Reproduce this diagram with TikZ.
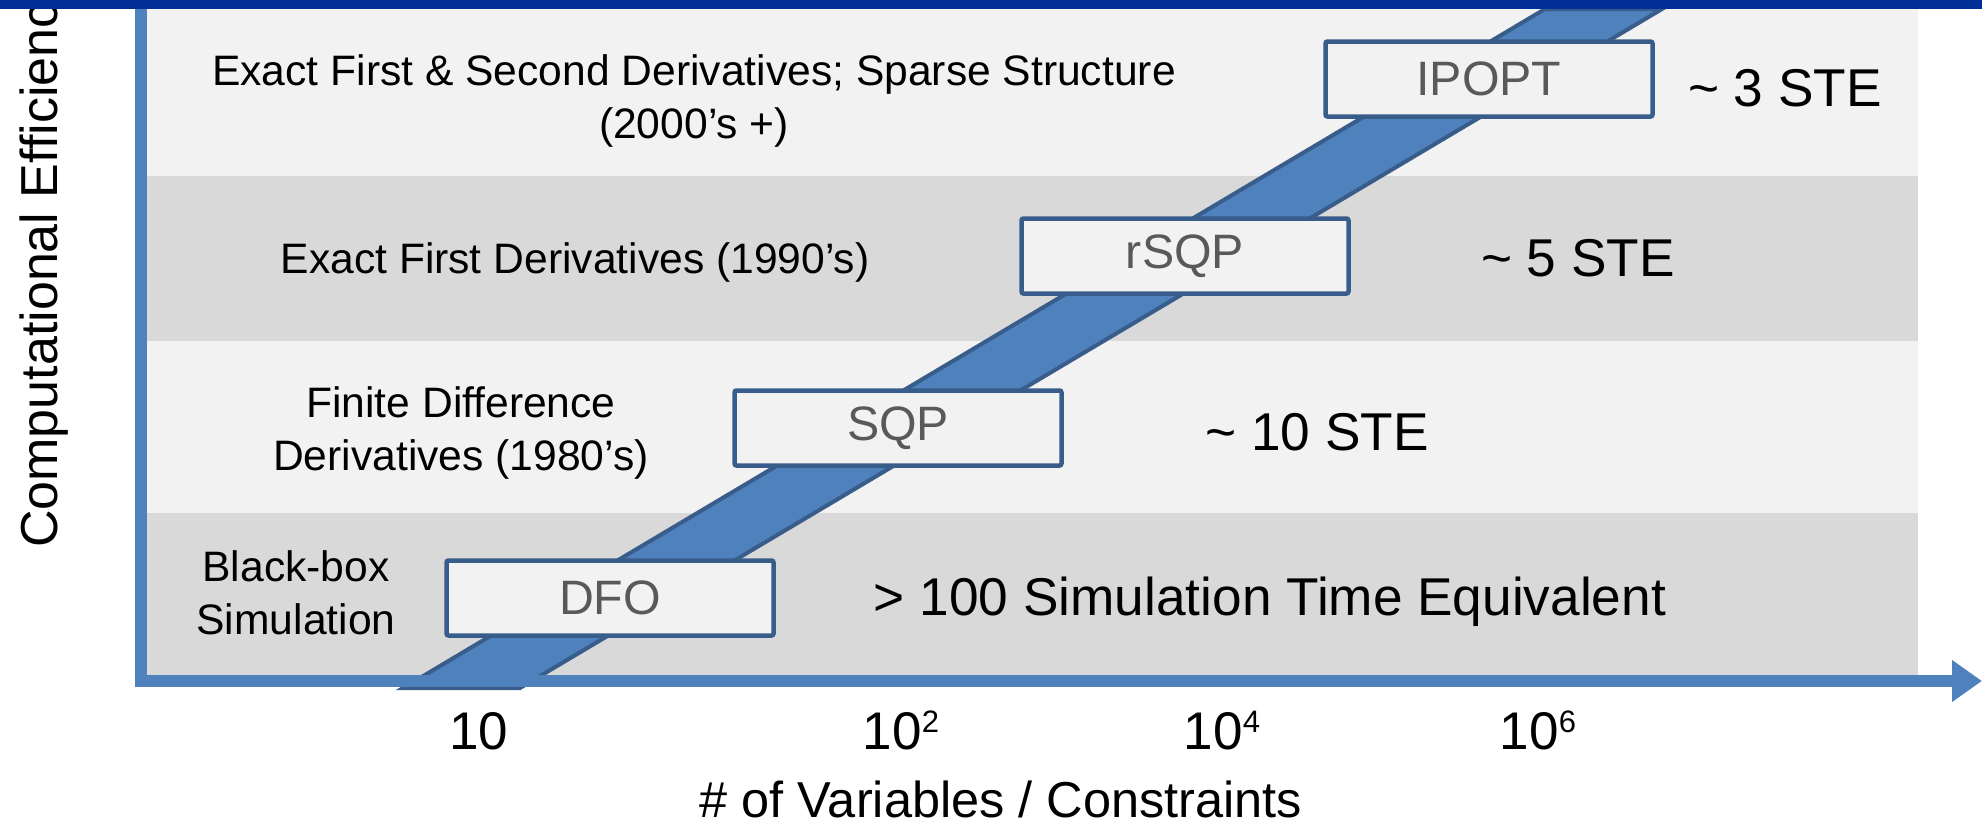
\documentclass[tikz,border=0pt]{standalone}
\usepackage{fontspec}
\setmainfont{Liberation Sans}
\usetikzlibrary{positioning,arrows.meta}

\definecolor{axisblue}{RGB}{79,129,189}
\definecolor{edgeblue}{RGB}{56,93,138}
\definecolor{barblue}{RGB}{0,48,150}
\definecolor{bandlight}{RGB}{242,242,242}
\definecolor{banddark}{RGB}{217,217,217}
\definecolor{algotext}{RGB}{89,89,89}

\newcommand{\pow}[1]{10\raisebox{17pt}{\fontsize{31}{31}\selectfont #1}}

\begin{document}
\begin{tikzpicture}[
	x=1pt, y=-1pt,
	algo/.style={draw=edgeblue, line width=4.5pt, fill=bandlight, rounded corners=2pt, minimum width=327pt, minimum height=75pt, inner sep=0pt, text=algotext, font=\fontsize{48.3}{58}\selectfont},
	era/.style={align=center, inner sep=0pt, font=\fontsize{42.6}{53}\selectfont},
	cost/.style={inner sep=0pt, font=\fontsize{53.2}{64}\selectfont},
	ticklabel/.style={inner sep=0pt, font=\fontsize{53}{64}\selectfont},
	axis/.style={draw=axisblue, line width=12pt, line join=miter}
	]
	
	\useasboundingbox (0,0) rectangle (1982,827);
	\clip (0,0) rectangle (1982,827);
	
	% bands
	\fill[bandlight] (147,9) rectangle (1918,176);
	\fill[banddark] (147,176) rectangle (1918,341);
	\fill[bandlight] (147,341) rectangle (1918,513);
	\fill[banddark] (147,513) rectangle (1918,675);
	
	% diagonal stripe
	\filldraw[fill=axisblue, draw=edgeblue, line width=4pt] (403,688) -- (520,688) -- (1662,9) -- (1545,9) -- cycle;
	
	% axes
	\coordinate (ytop) at (141,0);
	\coordinate (origin) at (141,681);
	\coordinate (xend) at (1982,681);
	\draw[axis, -{Triangle[length=30pt, width=40pt]}] (ytop) -- (origin) -- (xend);
	
	% algorithms
	\node[algo] (ipopt) at (1489,79) {IPOPT};
	\node[algo] (rsqp) at (1185,256) {rSQP};
	\node[algo] (sqp) at (898,428) {SQP};
	\node[algo] (dfo) at (610,598) {DFO};
	
	\node[era] (exact2) at (694,101) {Exact First \& Second Derivatives; Sparse Structure\\(2000’s +)};
	\node[era] (exact1) at (575,262) {Exact First Derivatives (1990’s)};
	\node[era] (findiff) at (461,433) {Finite Difference\\Derivatives (1980’s)};
	\node[era] (blackbox) at (296,593) {Black-box\\Simulation};
	
	\node[cost] (ste3) at (1785,88) {\textasciitilde\ 3 STE};
	\node[cost] (ste5) at (1578,258) {\textasciitilde\ 5 STE};
	\node[cost] (ste10) at (1317,432) {\textasciitilde\ 10 STE};
	\node[cost] (ste100) at (1270,602) {> 100 Simulation Time Equivalent};
	
	% x axis
	\node[ticklabel, anchor=base] (t1) at (479,749) {10};
	\node[ticklabel, anchor=base] (t2) at (901,749) {\pow{2}};
	\node[ticklabel, anchor=base] (t4) at (1222,749) {\pow{4}};
	\node[ticklabel, anchor=base] (t6) at (1538,749) {\pow{6}};
	\node[ticklabel, font=\fontsize{50.5}{60}\selectfont] (xlabel) at (1001,799) {\# of Variables / Constraints};
	
	% y axis
	\node[ticklabel, font=\fontsize{52}{62}\selectfont, rotate=90, anchor=base west] (ylabel) at (57,548) {Computational Efficiency};
	
	\fill[barblue] (0,0) rectangle (1982,9);
	
\end{tikzpicture}
\end{document}
